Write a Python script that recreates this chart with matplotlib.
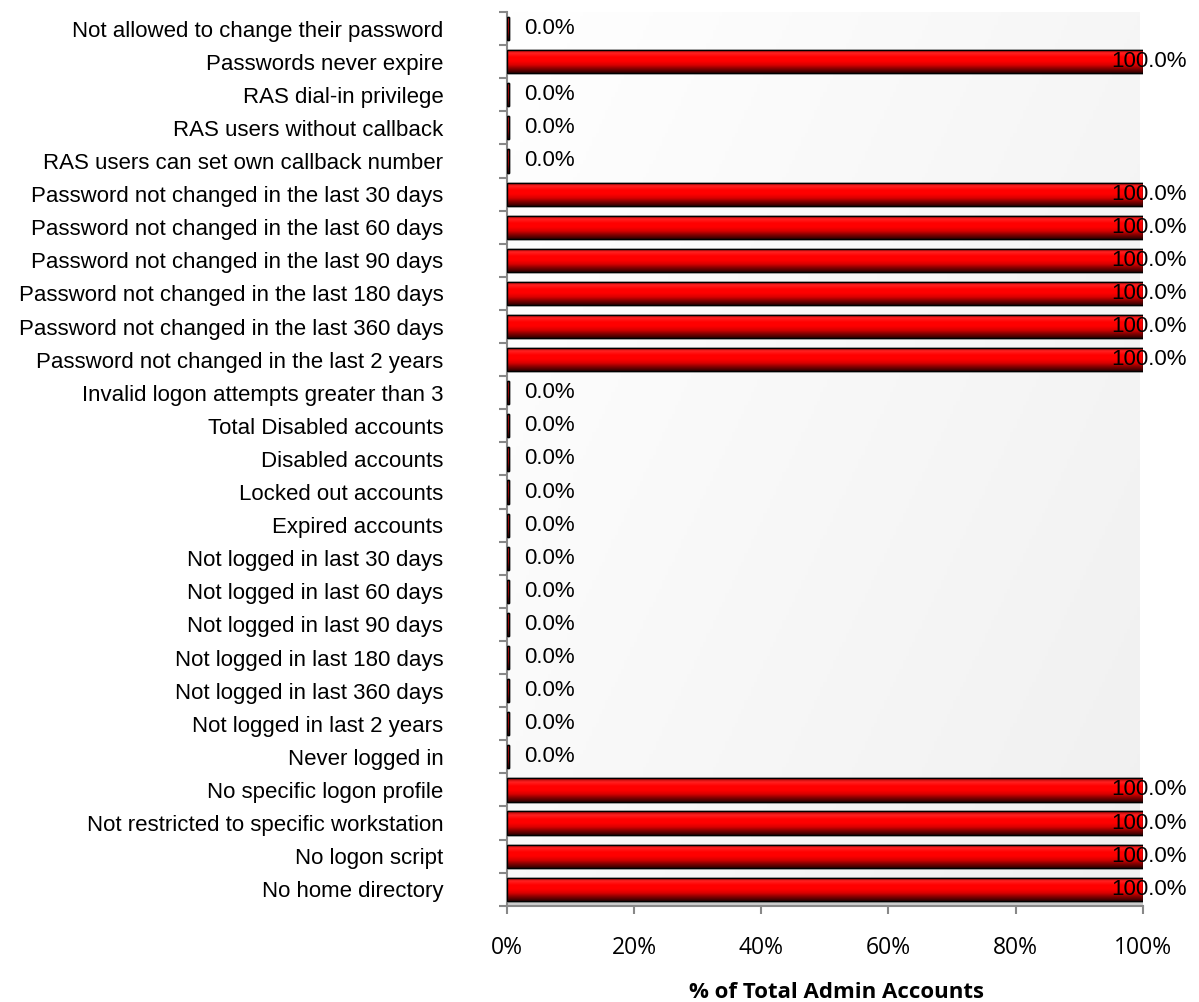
import numpy as np
import matplotlib.pyplot as plt
from matplotlib.colors import LinearSegmentedColormap

categories = [
    "Not allowed to change their password",
    "Passwords never expire",
    "RAS dial-in privilege",
    "RAS users without callback",
    "RAS users can set own callback number",
    "Password not changed in the last 30 days",
    "Password not changed in the last 60 days",
    "Password not changed in the last 90 days",
    "Password not changed in the last 180 days",
    "Password not changed in the last 360 days",
    "Password not changed in the last 2 years",
    "Invalid logon attempts greater than 3",
    "Total Disabled accounts",
    "Disabled accounts",
    "Locked out accounts",
    "Expired accounts",
    "Not logged in last 30 days",
    "Not logged in last 60 days",
    "Not logged in last 90 days",
    "Not logged in last 180 days",
    "Not logged in last 360 days",
    "Not logged in last 2 years",
    "Never logged in",
    "No specific logon profile",
    "Not restricted to specific workstation",
    "No logon script",
    "No home directory",
]
values = [0, 100, 0, 0, 0, 100, 100, 100, 100, 100, 100, 0, 0, 0, 0, 0,
          0, 0, 0, 0, 0, 0, 0, 100, 100, 100, 100]
xticks = [0, 20, 40, 60, 80, 100]

fig = plt.figure(figsize=(11.99, 10.02), dpi=100)
ax = fig.add_axes([0.423, 0.096, 0.530, 0.892])

n = len(categories)
ypos = np.arange(n)
ax.set_xlim(0, 100)
ax.set_ylim(n - 0.5, -0.5)

# background gradient (white top-left to light gray)
gx, gy = np.meshgrid(np.linspace(0, 1, 200), np.linspace(0, 1, 200))
grad = 0.6 * gx + 0.4 * gy
bg_cmap = LinearSegmentedColormap.from_list("bg", ["#ffffff", "#f0f0f0"])
ax.imshow(grad, cmap=bg_cmap, extent=[0, 99.5, n - 0.5, -0.5], aspect="auto",
          zorder=0, vmin=0, vmax=1)
# floor
ax.axhspan(n - 0.5, n - 0.6, color="#cccccc", zorder=0.5)

bar_cmap = LinearSegmentedColormap.from_list(
    "bar", ["#a00000", "#ff2020", "#ff0000", "#ff0000", "#d80000",
            "#800000", "#300000"])
bar_grad = np.linspace(0, 1, 100).reshape(-1, 1)
bh = 0.7
for y, v in zip(ypos, values):
    w = v if v > 0 else 0.35
    rect = ax.barh(y, w, height=bh, color="red", edgecolor="black",
                   linewidth=1.0, zorder=2)[0]
    im = ax.imshow(bar_grad, cmap=bar_cmap, extent=[0, w, y + bh / 2, y - bh / 2],
                   aspect="auto", zorder=2.5)
    im.set_clip_path(rect)
    ax.barh(y, w, height=bh, facecolor="none", edgecolor="black",
            linewidth=1.0, zorder=3)
    lx = min(v + 2.7, 95.0)
    ax.text(lx, y, f"{v:.1f}%", va="center", ha="left", fontsize=16,
            family="Liberation Sans", zorder=4)

ax.set_yticks(ypos)
ax.set_yticklabels(categories, fontsize=16, family="Liberation Sans")
ax.set_yticks(np.arange(n + 1) - 0.5, minor=True)
ax.tick_params(axis="y", which="major", length=0, pad=46)
ax.tick_params(axis="y", which="minor", length=6, color="#888888", width=1.5)

ax.set_xticks(xticks)
ax.set_xticklabels([f"{t}%" for t in xticks], fontsize=16.5, family="Open Sans")
ax.tick_params(axis="x", length=6, color="#888888", width=1.5, pad=16)
ax.set_xlabel("% of Total Admin Accounts", fontsize=16, fontweight="bold",
              family="Open Sans", labelpad=14)
ax.xaxis.set_label_coords(0.519, -0.085)

for s in ["top", "right"]:
    ax.spines[s].set_visible(False)
for s in ["left", "bottom"]:
    ax.spines[s].set_color("#888888")
    ax.spines[s].set_linewidth(1.5)

fig.savefig("out.png", dpi=100)
